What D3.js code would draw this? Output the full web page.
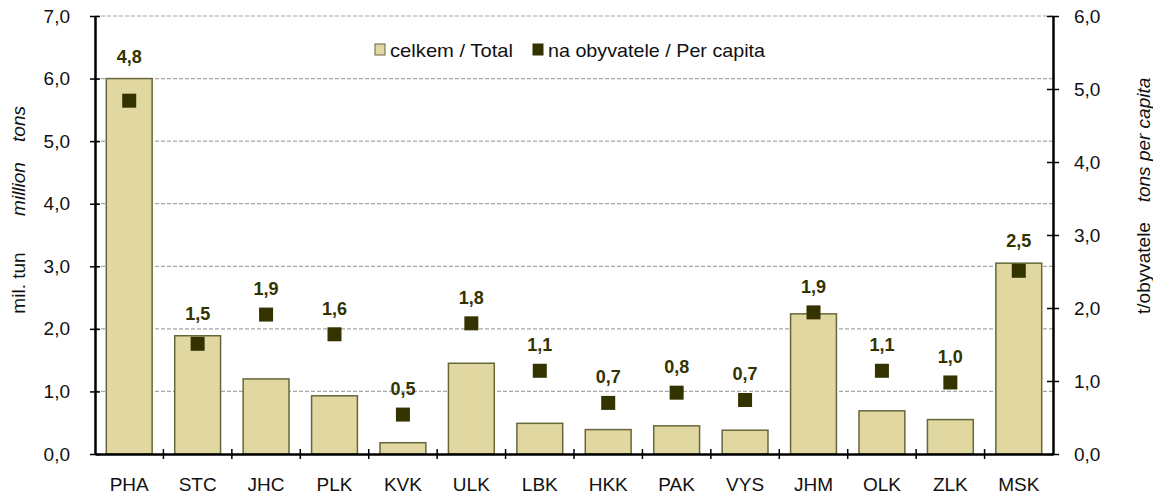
<!DOCTYPE html>
<html><head><meta charset="utf-8">
<script src="https://cdn.jsdelivr.net/npm/d3@7"></script>
<style>
body{margin:0;background:#fff;}
svg{display:block;font-family:Arial,"Liberation Sans",sans-serif;}
</style></head>
<body>
<svg id="chart" width="1153" height="499"></svg>
<script>
const categories = ["PHA","STC","JHC","PLK","KVK","ULK","LBK","HKK","PAK","VYS","JHM","OLK","ZLK","MSK"];
const totalMillionTons = [6.0,1.89,1.2,0.93,0.18,1.45,0.49,0.39,0.45,0.38,2.24,0.69,0.55,3.05];
const perCapitaTons = [4.84,1.51,1.91,1.64,0.54,1.79,1.14,0.70,0.84,0.74,1.94,1.14,0.98,2.51];
const leftTicks = [0,1,2,3,4,5,6,7];
const rightTicks = [0,1,2,3,4,5,6];
const legendLabels = ["celkem / Total","na obyvatele / Per capita"];
const leftTitle = ["mil. tun","million","tons"];
const rightTitle = ["t/obyvatele","tons per capita"];

const svg = d3.select("#chart");
const L = 95, R = 1053, T = 16, B = 454;
const fmt = d => d3.format(".1f")(d).replace(".", ",");
const barFill = "#e1d8a1", barStroke = "#67673a", dark = "#333300";
const FF = "Arial, 'Liberation Sans', sans-serif";

const x = d3.scaleBand().domain(categories).range([L, R]).paddingInner(0.33).paddingOuter(0.165);
const y = d3.scaleLinear().domain([0, 7]).range([B, T]);
const y2 = d3.scaleLinear().domain([0, 6]).range([B, T]);

// gridlines
svg.append("g").selectAll("line").data(leftTicks.filter(d => d > 0)).join("line")
  .attr("x1", L).attr("x2", R).attr("y1", d => y(d)).attr("y2", d => y(d))
  .attr("stroke", "#a6a6a6").attr("stroke-width", 1.2).attr("stroke-dasharray", "4,2");

// bars
svg.append("g").selectAll("rect").data(categories).join("rect")
  .attr("x", d => x(d)).attr("width", x.bandwidth())
  .attr("y", (d, i) => y(totalMillionTons[i])).attr("height", (d, i) => B - y(totalMillionTons[i]))
  .attr("fill", barFill).attr("stroke", barStroke).attr("stroke-width", 1.5);

// markers
const ms = 14;
svg.append("g").selectAll("rect").data(categories).join("rect")
  .attr("x", d => x(d) + x.bandwidth() / 2 - ms / 2)
  .attr("y", (d, i) => y2(perCapitaTons[i]) - ms / 2)
  .attr("width", ms).attr("height", ms).attr("fill", dark);

// data labels
svg.append("g").selectAll("text").data(categories).join("text")
  .attr("x", d => x(d) + x.bandwidth() / 2)
  .attr("y", (d, i) => Math.min(y2(perCapitaTons[i]) - 26, y(totalMillionTons[i]) - 22))
  .attr("dy", "0.35em").attr("text-anchor", "middle")
  .attr("font-size", 18).attr("font-weight", "bold").attr("fill", dark)
  .text((d, i) => fmt(perCapitaTons[i]));

// left axis
const gl = svg.append("g").attr("transform", `translate(${L},0)`)
  .call(d3.axisLeft(y).tickValues(leftTicks).tickFormat(fmt).tickSizeOuter(0).tickSizeInner(5).tickPadding(20));
gl.selectAll(".tick line").attr("x1", -5).attr("x2", 5).attr("stroke", "#000").attr("stroke-width", 1.5);
gl.select(".domain").attr("stroke", "#000").attr("stroke-width", 2.5);
gl.selectAll("text").attr("font-size", 19).attr("fill", "#111").attr("font-family", FF);

// right axis
const gr = svg.append("g").attr("transform", `translate(${R},0)`)
  .call(d3.axisRight(y2).tickValues(rightTicks).tickFormat(fmt).tickSizeOuter(0).tickSizeInner(6).tickPadding(15));
gr.selectAll(".tick line").attr("x1", -6).attr("x2", 6).attr("stroke", "#000").attr("stroke-width", 1.5);
gr.select(".domain").attr("stroke", "#000").attr("stroke-width", 2.5);
gr.selectAll("text").attr("font-size", 19).attr("fill", "#111").attr("font-family", FF);

// bottom axis
const gb = svg.append("g").attr("transform", `translate(0,${B})`)
  .call(d3.axisBottom(x).tickSize(0).tickPadding(24));
gb.select(".domain").attr("stroke", "#000").attr("stroke-width", 2.5);
gb.selectAll("text").attr("font-size", 19).attr("fill", "#111").attr("font-family", FF);
gb.append("g").selectAll("line").data(d3.range(1, categories.length)).join("line")
  .attr("x1", i => L + i * x.step()).attr("x2", i => L + i * x.step())
  .attr("y1", -5).attr("y2", 5).attr("stroke", "#000").attr("stroke-width", 1.5);

// axis titles
const leftCenters = [283, 189, 124];
svg.append("g").selectAll("text").data(leftTitle).join("text")
  .attr("transform", (d, i) => `translate(25,${leftCenters[i]}) rotate(-90)`)
  .attr("text-anchor", "middle").attr("font-size", 19).attr("fill", "#111")
  .attr("font-style", (d, i) => i === 0 ? "normal" : "italic")
  .text(d => d);

const rightCenters = [268, 140];
svg.append("g").selectAll("text").data(rightTitle).join("text")
  .attr("transform", (d, i) => `translate(1150,${rightCenters[i]}) rotate(-90)`)
  .attr("text-anchor", "middle").attr("font-size", 19).attr("fill", "#111")
  .attr("font-style", (d, i) => i === 0 ? "normal" : "italic")
  .text(d => d);

// legend
const lg = svg.append("g");
const legendX = [375, 533];
const legendW = [123, 217];
lg.selectAll("rect").data(legendLabels).join("rect")
  .attr("x", (d, i) => legendX[i]).attr("y", 44).attr("width", 10).attr("height", 11)
  .attr("fill", (d, i) => i === 0 ? barFill : dark)
  .attr("stroke", (d, i) => i === 0 ? barStroke : dark).attr("stroke-width", 1);
lg.selectAll("text").data(legendLabels).join("text")
  .attr("x", (d, i) => legendX[i] + 15).attr("y", 50).attr("dy", "0.35em")
  .attr("font-size", 19).attr("fill", "#111")
  .attr("textLength", (d, i) => legendW[i]).attr("lengthAdjust", "spacingAndGlyphs")
  .text(d => d);
</script>
</body></html>
